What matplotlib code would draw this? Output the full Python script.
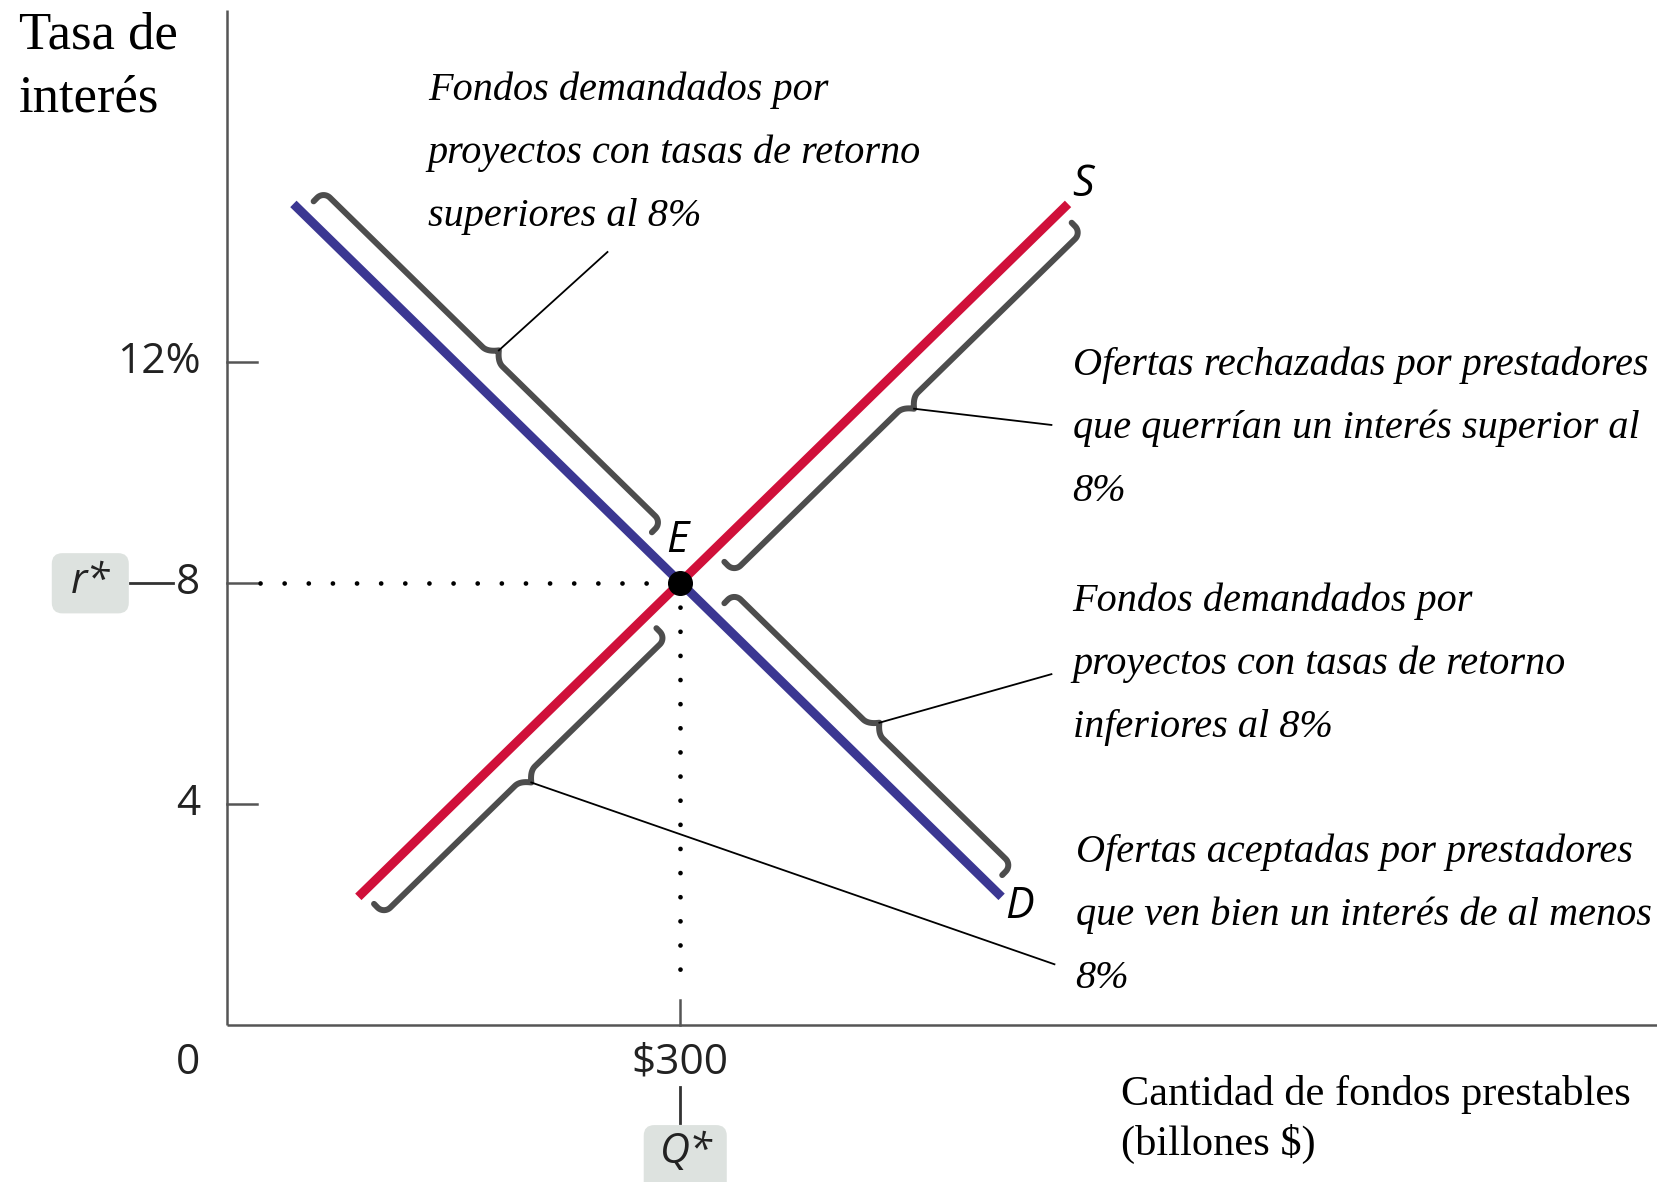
import numpy as np
import matplotlib
matplotlib.use('Agg')
import matplotlib.pyplot as plt
from matplotlib.patches import FancyBboxPatch

# 곡선 데이터 --- (*1)
supply_q = [87, 557]
supply_r = [2.32, 14.86]
demand_q = [44, 513]
demand_r = [14.86, 2.32]
eq_q, eq_r = 300, 8

ytick_vals = [4, 8, 12]
ytick_labels = ['4', '8', '12%']

# 괄호 범위 (q 구간) 와 설명 문구 --- (*2)
brace_curves = ['demand', 'supply', 'demand', 'supply']
brace_ranges = [(50, 274), (322, 552), (322, 506), (90, 277)]
leader_ends = [(252, 13.99), (546, 10.86), (546, 6.35), (548, 1.10)]
note_pos = [(133, 16.74), (560, 11.76), (560, 7.49), (562, 2.95)]
note_lines = [
    ['Fondos demandados por', 'proyectos con tasas de retorno', 'superiores al 8%'],
    ['Ofertas rechazadas por prestadores', 'que querrían un interés superior al', '8%'],
    ['Fondos demandados por', 'proyectos con tasas de retorno', 'inferiores al 8%'],
    ['Ofertas aceptadas por prestadores', 'que ven bien un interés de al menos', '8%'],
]

RED = '#d0103a'
BLUE = '#3b3792'
GRAY = '#4d4d4d'
AXC = '#555555'
BOX = '#dde2df'
SANS = 'Open Sans'
SERIF = 'Liberation Serif'

fig = plt.figure(figsize=(16.58, 11.82), dpi=100)
ax = fig.add_axes([0, 0, 1, 1])
ax.set_xlim(-150.3, 947.7)
ax.set_ylim(-2.84, 18.55)
ax.axis('off')

# 축 --- (*3)
ax.plot([0, 0], [0, 18.37], color=AXC, lw=1.8, solid_capstyle='butt')
ax.plot([0, 947.7], [0, 0], color=AXC, lw=1.8, solid_capstyle='butt')
for v, lab in zip(ytick_vals, ytick_labels):
    ax.plot([0, 20], [v, v], color=AXC, lw=1.8)
    ax.text(-17.5, v, lab, fontsize=30.5, family=SANS, ha='right', va='center', color='#222222')
ax.text(-26, -0.69, '0', fontsize=30.5, family=SANS, ha='center', va='center', color='#222222')
ax.text(eq_q, -0.67, '$300', fontsize=30.5, family=SANS, ha='center', va='center', color='#222222')
ax.plot([eq_q, eq_q], [0, 0.45], color=AXC, lw=1.8)

# r*, Q* 상자 --- (*4)
ax.plot([-64, -36], [eq_r, eq_r], color='#333333', lw=2)
ax.add_patch(FancyBboxPatch((-116, 7.45), 51, 1.09, boxstyle='round,pad=0,rounding_size=7',
                            fc=BOX, ec='none', mutation_aspect=1 / 36.6))
ax.text(-90.5, 8.02, 'r*', fontsize=30, family=SANS, style='italic', ha='center', va='center',
        color='#222222')
ax.plot([eq_q, eq_q], [-1.12, -1.77], color='#333333', lw=2)
ax.add_patch(FancyBboxPatch((276, -3.2), 55, 1.39, boxstyle='round,pad=0,rounding_size=7',
                            fc=BOX, ec='none', mutation_aspect=1 / 36.6))
ax.text(eq_q + 4, -2.3, 'Q*', fontsize=30, family=SANS, style='italic', ha='center', va='center',
        color='#222222')

# 점선 --- (*5)
ax.plot([22, eq_q], [eq_r, eq_r], color='black', lw=3.4, dashes=[0.01, 5.1],
        dash_capstyle='round')
ax.plot([eq_q, eq_q], [eq_r, 0.6], color='black', lw=3.4, dashes=[0.01, 5.1],
        dash_capstyle='round')

# 수요/공급 곡선 --- (*6)
ax.plot(supply_q, supply_r, color=RED, lw=6.5, solid_capstyle='butt')
ax.plot(demand_q, demand_r, color=BLUE, lw=6.5, solid_capstyle='butt')
ax.plot([eq_q], [eq_r], 'o', color='black', ms=17)

ax.text(298, 8.76, 'E', fontsize=31, family=SANS, style='italic', ha='center', va='center')
ax.text(567, 15.2, 'S', fontsize=31, family=SANS, style='italic', ha='center', va='center')
ax.text(525, 2.14, 'D', fontsize=31, family=SANS, style='italic', ha='center', va='center')

# 중괄호 그리기 --- (*7)
def draw_brace(curve, q0, q1, offset=30, hook=14, rad=9, cusp=9, half=14):
    cq, cr = (supply_q, supply_r) if curve == 'supply' else (demand_q, demand_r)
    side = -1 if curve == 'supply' else 1
    p0 = ax.transData.transform((q0, np.interp(q0, cq, cr)))
    p1 = ax.transData.transform((q1, np.interp(q1, cq, cr)))
    L = np.hypot(*(p1 - p0))
    u = (p1 - p0) / L
    n = side * np.array([-u[1], u[0]])
    th = np.linspace(0, np.pi / 2, 12)
    s, t = [0.0], [offset - hook]
    s += list(rad - rad * np.cos(th)); t += list(offset - rad + rad * np.sin(th))
    k = np.linspace(0, 1, 12)
    s += list(L / 2 - half + half * k); t += list(offset + cusp * k ** 2)
    s += list(L / 2 + half * k); t += list(offset + cusp * (1 - k) ** 2)
    s += list(L - rad + rad * np.sin(th)); t += list(offset - rad + rad * np.cos(th))
    s.append(L); t.append(offset - hook)
    s, t = np.array(s), np.array(t)
    pts = p0 + np.outer(s, u) + np.outer(t, n)
    d = ax.transData.inverted().transform(pts)
    ax.plot(d[:, 0], d[:, 1], color=GRAY, lw=4.3, solid_joinstyle='round',
            solid_capstyle='round')
    tip = p0 + u * L / 2 + n * (offset + cusp)
    return ax.transData.inverted().transform(tip)


for curve, (q0, q1), end, pos, lines in zip(brace_curves, brace_ranges, leader_ends,
                                            note_pos, note_lines):
    tip = draw_brace(curve, q0, q1)
    ax.plot([tip[0], end[0]], [tip[1], end[1]], color='black', lw=1.3)
    for i, line in enumerate(lines):
        ax.text(pos[0], pos[1] - i * 1.14, line, fontsize=29, family=SERIF, style='italic',
                ha='left', va='baseline')

# 축 제목 --- (*8)
ax.text(-137.7, 17.68, 'Tasa de', fontsize=38, family=SERIF, ha='left', va='baseline')
ax.text(-137.7, 16.54, 'interés', fontsize=38, family=SERIF, ha='left', va='baseline')
ax.text(592, -1.45, 'Cantidad de fondos prestables', fontsize=30.5, family=SERIF, ha='left',
        va='baseline')
ax.text(592, -2.35, '(billones $)', fontsize=30.5, family=SERIF, ha='left', va='baseline')

fig.savefig('out.png', dpi=100)
